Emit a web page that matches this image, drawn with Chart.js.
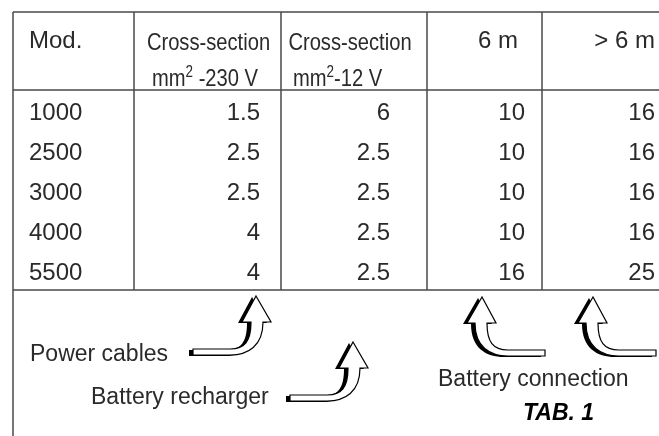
<!DOCTYPE html>
<html>
<head>
<meta charset="utf-8">
<script src="https://cdn.jsdelivr.net/npm/chart.js@4"></script>
<style>
  html, body { margin: 0; padding: 0; background: #fff; }
  #wrap { width: 659px; height: 436px; }
</style>
</head>
<body>
<div id="wrap"><canvas id="tab1" width="659" height="436"></canvas></div>
<script>
// dati della tabella
const models = ['1000', '2500', '3000', '4000', '5500'];
const section230V = [1.5, 2.5, 2.5, 4, 4];
const section12V = [6, 2.5, 2.5, 2.5, 2.5];
const length6m = [10, 10, 10, 10, 16];
const lengthOver6m = [16, 16, 16, 16, 25];
const headerTop = ['Mod.', 'Cross-section', 'Cross-section', '6 m', '> 6 m'];
const headerUnit = ['', ' -230 V', '-12 V', '', ''];
const arrowLabels = ['Power cables', 'Battery recharger', 'Battery connection'];
const tableTitle = 'TAB. 1';

// layout (x in pixel, y in righe)
const colEdges = [13, 134, 281, 427, 542];
const tableRight = 680;
const headerTopRow = -1.95;
const cellAnchor = [29, 260, 390, 525, 655];
const arrows = [[256, 5.15, 1], [353, 6.3, 1], [482, 5.175, -1], [593, 5.175, -1]];
const labelPos = [[30, 6.775], [91, 7.85], [438, 7.4]];

const FONT = '"Liberation Sans", Arial, sans-serif';
const INK = '#2a2a2a';

function arrowPath(ctx) {
  ctx.beginPath();
  ctx.moveTo(0, 0);
  ctx.lineTo(15, 26);
  ctx.lineTo(7, 26);
  ctx.bezierCurveTo(7, 50, -8, 59, -26, 59);
  ctx.lineTo(-63, 59);
  ctx.lineTo(-63, 53);
  ctx.lineTo(-26, 53);
  ctx.bezierCurveTo(-11, 53, -5, 45, -5, 26);
  ctx.lineTo(-14, 26);
  ctx.closePath();
}

function drawArrow(ctx, px, py, dir) {
  ctx.save();
  ctx.translate(px - 4, py + 1);
  ctx.scale(dir, 1);
  arrowPath(ctx);
  ctx.fillStyle = '#000';
  ctx.fill();
  ctx.restore();
  ctx.save();
  ctx.translate(px, py);
  ctx.scale(dir, 1);
  arrowPath(ctx);
  ctx.fillStyle = '#fff';
  ctx.fill();
  ctx.lineWidth = 1.2;
  ctx.strokeStyle = '#000';
  ctx.stroke();
  ctx.restore();
}

// testo con "mm²" e scala orizzontale (carattere stretto)
function unitText(ctx, unit, x, base, align, sx) {
  ctx.font = '24px ' + FONT;
  const wMm = ctx.measureText('mm').width;
  const wRest = ctx.measureText(unit).width;
  ctx.font = '16px ' + FONT;
  const wSup = ctx.measureText('2').width;
  const w = (wMm + wSup + wRest) * sx;
  const start = align === 'center' ? x - w / 2 : x;
  ctx.save();
  ctx.translate(start, base);
  ctx.scale(sx, 1);
  ctx.textAlign = 'left';
  ctx.font = '24px ' + FONT;
  ctx.fillText('mm', 0, 0);
  ctx.font = '16px ' + FONT;
  ctx.fillText('2', wMm, -9);
  ctx.font = '24px ' + FONT;
  ctx.fillText(unit, wMm + wSup, 0);
  ctx.restore();
}

const tablePlugin = {
  id: 'tablePlugin',
  afterDraw(chart) {
    const ctx = chart.ctx;
    const X = v => chart.scales.x.getPixelForValue(v);
    const Y = v => chart.scales.y.getPixelForValue(v);
    const columns = [models, section230V, section12V, length6m, lengthOver6m];

    ctx.save();
    // griglia
    ctx.strokeStyle = '#4a4a4a';
    ctx.lineWidth = 1.5;
    ctx.beginPath();
    [headerTopRow, 0, models.length].forEach(r => {
      ctx.moveTo(X(colEdges[0]), Y(r));
      ctx.lineTo(X(tableRight), Y(r));
    });
    ctx.moveTo(X(colEdges[0]), Y(headerTopRow));
    ctx.lineTo(X(colEdges[0]), chart.chartArea.bottom);
    colEdges.slice(1).forEach(c => {
      ctx.moveTo(X(c), Y(headerTopRow));
      ctx.lineTo(X(c), Y(models.length));
    });
    ctx.stroke();

    ctx.fillStyle = INK;
    ctx.textBaseline = 'alphabetic';

    // intestazioni
    ctx.font = '24px ' + FONT;
    ctx.textAlign = 'left';
    ctx.fillText(headerTop[0], X(cellAnchor[0]), Y(-1.05));
    ctx.textAlign = 'right';
    ctx.fillText(headerTop[3], X(518), Y(-1.05));
    ctx.fillText(headerTop[4], X(cellAnchor[4]), Y(-1.05));

    [[1, 208.5], [2, 350]].forEach(([c, cx]) => {
      ctx.save();
      ctx.translate(X(cx), Y(-1.0));
      ctx.scale(0.84, 1);
      ctx.textAlign = 'center';
      ctx.fillText(headerTop[c], 0, 0);
      ctx.restore();
    });
    unitText(ctx, headerUnit[1], X(205), Y(-0.11), 'center', 0.84);
    unitText(ctx, headerUnit[2], X(293), Y(-0.11), 'left', 0.84);

    // celle
    ctx.font = '24px ' + FONT;
    columns.forEach((col, c) => {
      ctx.textAlign = c === 0 ? 'left' : 'right';
      col.forEach((v, r) => {
        ctx.fillText(String(v), X(cellAnchor[c]), Y(r + 0.5) + 10);
      });
    });

    // frecce e didascalie
    arrows.forEach(([ax, ay, dir]) => drawArrow(ctx, X(ax), Y(ay), dir));
    ctx.fillStyle = INK;
    ctx.font = '23px ' + FONT;
    ctx.textAlign = 'left';
    arrowLabels.forEach((t, i) => ctx.fillText(t, X(labelPos[i][0]), Y(labelPos[i][1])));
    ctx.fillStyle = '#000';
    ctx.font = 'italic bold 23px ' + FONT;
    ctx.fillText(tableTitle, X(523), Y(8.25));
    ctx.restore();
  }
};

new Chart(document.getElementById('tab1'), {
  type: 'scatter',
  data: { datasets: [] },
  options: {
    responsive: false,
    animation: false,
    layout: { padding: 0 },
    plugins: { legend: { display: false }, tooltip: { enabled: false } },
    scales: {
      x: { type: 'linear', min: 0, max: 659, display: false },
      y: { type: 'linear', min: -2.25, max: 8.65, reverse: true, display: false }
    }
  },
  plugins: [tablePlugin]
});
</script>
</body>
</html>
